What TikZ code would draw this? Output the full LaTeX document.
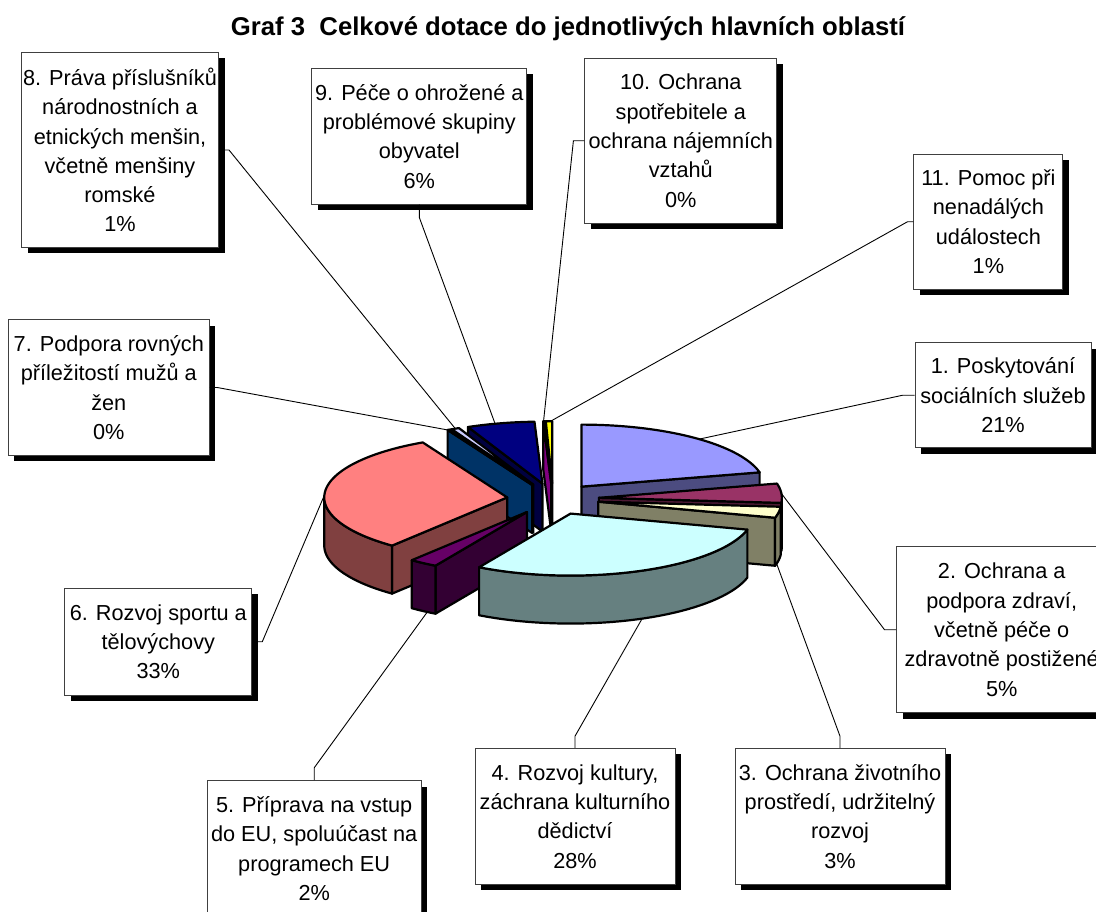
\documentclass[tikz,border=0pt]{standalone}
\usepackage{fontspec}
\setmainfont{Liberation Sans}
\usetikzlibrary{shadows,calc}
\definecolor{c1}{HTML}{9999FF}\definecolor{c1s}{HTML}{4C4C80}
\definecolor{c2}{HTML}{993366}\definecolor{c2s}{HTML}{4C1933}
\definecolor{c3}{HTML}{FFFFCC}\definecolor{c3s}{HTML}{808066}
\definecolor{c4}{HTML}{CCFFFF}\definecolor{c4s}{HTML}{668080}
\definecolor{c5}{HTML}{660066}\definecolor{c5s}{HTML}{330033}
\definecolor{c6}{HTML}{FF8080}\definecolor{c6s}{HTML}{804040}
\definecolor{c7}{HTML}{0066CC}\definecolor{c7s}{HTML}{003366}
\definecolor{c8}{HTML}{CCCCFF}\definecolor{c8s}{HTML}{666680}
\definecolor{c9}{HTML}{000080}\definecolor{c9s}{HTML}{000040}
\definecolor{c10}{HTML}{FF00FF}\definecolor{c10s}{HTML}{800080}
\definecolor{c11}{HTML}{FFFF00}\definecolor{c11s}{HTML}{808000}
% radial (cut) face: beta, angle, fill
\newcommand\RadFace[3]{\path[pieedge,fill=#3] ({apx(#1)},{apy(#1)}) -- ({rmx(#1,#2)},{rmy(#1,#2)}) -- ({rmx(#1,#2)},{rmy(#1,#2)+48}) -- ({apx(#1)},{apy(#1)+48}) -- cycle;}
% outer curved side: beta, from, to, fill
\newcommand\OutSide[4]{\path[pieedge,fill=#4] plot[domain=#2:#3,samples=40,variable=\t] ({rmx(#1,\t)},{rmy(#1,\t)}) -- plot[domain=#3:#2,samples=40,variable=\t] ({rmx(#1,\t)},{rmy(#1,\t)+48}) -- cycle;}
% top face: beta, from, to, fill
\newcommand\TopFace[4]{\path[pieedge,fill=#4] ({apx(#1)},{apy(#1)}) -- plot[domain=#2:#3,samples=60,variable=\t] ({rmx(#1,\t)},{rmy(#1,\t)}) -- cycle;}
\begin{document}
\begin{tikzpicture}[x=1pt,y=-1pt,
  declare function={
    apx(\bet)=553+46*sin(\bet);
    apy(\bet)=499-15.78*cos(\bet);
    rmx(\bet,\ang)=553+46*sin(\bet)+183*sin(\ang);
    rmy(\bet,\ang)=499-15.78*cos(\bet)-62*cos(\ang);
  },
  pieedge/.style={draw=black,line width=2.2pt,line join=round},
  lbl/.style={draw=black!75,line width=1pt,fill=white,align=center,inner sep=0pt,
    font=\fontsize{21.7}{29.3}\selectfont,
    drop shadow={shadow xshift=6pt,shadow yshift=-6pt,fill=black,opacity=1}},
  leader/.style={draw=black,line width=0.9pt}
]
\useasboundingbox (0,0) rectangle (1096,912);
\clip (0,0) rectangle (1096,912);
\fill[white] (0,0) rectangle (1096,912);

% title
\node[font=\fontsize{25.7}{30}\selectfont\bfseries,anchor=base] (title) at (568,36) {Graf 3\ \ Celkové dotace do jednotlivých hlavních oblastí};

% label boxes
\node[lbl,minimum width=176pt,minimum height=105pt] (b1) at (1003,395.2) {1. Poskytování\\sociálních služeb\\21\%};
\node[lbl,minimum width=210pt,minimum height=166pt] (b2) at (1001.7,629.7) {2. Ochrana a\\podpora zdraví,\\včetně péče o\\zdravotně postižené\\5\%};
\node[lbl,minimum width=210pt,minimum height=136pt] (b3) at (840,816.3) {3. Ochrana životního\\prostředí, udržitelný\\rozvoj\\3\%};
\node[lbl,minimum width=200pt,minimum height=136pt] (b4) at (575,816.3) {4. Rozvoj kultury,\\záchrana kulturního\\dědictví\\28\%};
\node[lbl,minimum width=214pt,minimum height=136pt] (b5) at (314.2,848.7) {5. Příprava na vstup\\do EU, spoluúčast na\\programech EU\\2\%};
\node[lbl,minimum width=187pt,minimum height=107pt] (b6) at (158.3,641.7) {6. Rozvoj sportu a\\tělovýchovy\\33\%};
\node[lbl,minimum width=201pt,minimum height=135pt] (b7) at (108.8,387.5) {7. Podpora rovných\\příležitostí mužů a\\žen\\0\%};
\node[lbl,minimum width=197pt,minimum height=195pt] (b8) at (120,150) {8. Práva příslušníků\\národnostních a\\etnických menšin,\\včetně menšiny\\romské\\1\%};
\node[lbl,minimum width=215pt,minimum height=136pt] (b9) at (419.3,136.2) {9. Péče o ohrožené a\\problémové skupiny\\obyvatel\\6\%};
\node[lbl,minimum width=192pt,minimum height=165pt] (b10) at (680.8,140.8) {10. Ochrana\\spotřebitele a\\ochrana nájemních\\vztahů\\0\%};
\node[lbl,minimum width=149pt,minimum height=135pt] (b11) at (988.4,221.8) {11. Pomoc při\\nenadálých\\událostech\\1\%};

% leader end points on the pie
\coordinate (e1) at ({rmx(38.35,40)},{rmy(38.35,40)});
\coordinate (e2) at ({rmx(85.7,86)},{rmy(85.7,86)});
\coordinate (e3) at ({rmx(99.85,103)},{rmy(99.85,103)+48});
\coordinate (e4) at ({rmx(157.5,157)},{rmy(157.5,157)+48});
\coordinate (e5) at ({rmx(214.5,213)},{rmy(214.5,213)+48});
\coordinate (e6) at ({rmx(275.75,272)},{rmy(275.75,272)});
\coordinate (e7) at ({rmx(333,332.5)},{rmy(333,332.5)});
\coordinate (e8) at ({rmx(334.75,334.75)},{rmy(334.75,334.75)});
\coordinate (e9) at ({rmx(346.75,345)},{rmy(346.75,345)});
\coordinate (e10) at ({rmx(357.75,357.6)},{rmy(357.75,357.6)});
\coordinate (e11) at ({rmx(359,359.5)},{rmy(359,359.5)});

% leaders
\draw[leader] (b1.west) -- ++(-11.7,0) -- (e1);
\draw[leader] (b2.west) -- ++(-11.7,0) -- (e2);
\draw[leader] (b3.north) -- ++(0,-11.6) -- (e3);
\draw[leader] (b4.north) -- ++(0,-11.6) -- (e4);
\draw[leader] (b5.north) -- ++(0,-12.4) -- (e5);
\draw[leader] (b6.east) -- ++(10,0) -- (e6);
\draw[leader] (b7.east) -- ++(7.4,0) -- (e7);
\draw[leader] (b8.east) -- ++(10,0) -- (e8);
\draw[leader] (b9.south) -- ++(0,12.7) -- (e9);
\draw[leader] (b10.west) -- ++(-10.9,0) -- (e10);
\draw[leader] (b11.west) -- ++(-6,0) -- (e11);

% pie, back to front
\RadFace{359}{358}{c11s}\TopFace{359}{358}{360}{c11}
\RadFace{357.75}{357.5}{c10s}\TopFace{357.75}{357.5}{358}{c10}
\RadFace{346.75}{336}{c9s}\TopFace{346.75}{336}{357.5}{c9}
\RadFace{334.75}{333.5}{c8s}\TopFace{334.75}{333.5}{336}{c8}
\RadFace{333}{332.5}{c7s}\TopFace{333}{332.5}{333.5}{c7}
\RadFace{38.35}{76.7}{c1s}\TopFace{38.35}{0}{76.7}{c1}
\RadFace{85.7}{94.7}{c2s}\OutSide{85.7}{90}{94.7}{c2s}\TopFace{85.7}{76.7}{94.7}{c2}
\RadFace{99.85}{105}{c3s}\OutSide{99.85}{94.7}{105}{c3s}\TopFace{99.85}{94.7}{105}{c3}
\RadFace{275.75}{219}{c6s}\OutSide{275.75}{219}{270}{c6s}\TopFace{275.75}{219}{332.5}{c6}
\RadFace{214.5}{210}{c5s}\OutSide{214.5}{210}{219}{c5s}\TopFace{214.5}{210}{219}{c5}
\OutSide{157.5}{105}{210}{c4s}\TopFace{157.5}{105}{210}{c4}
\end{tikzpicture}
\end{document}
